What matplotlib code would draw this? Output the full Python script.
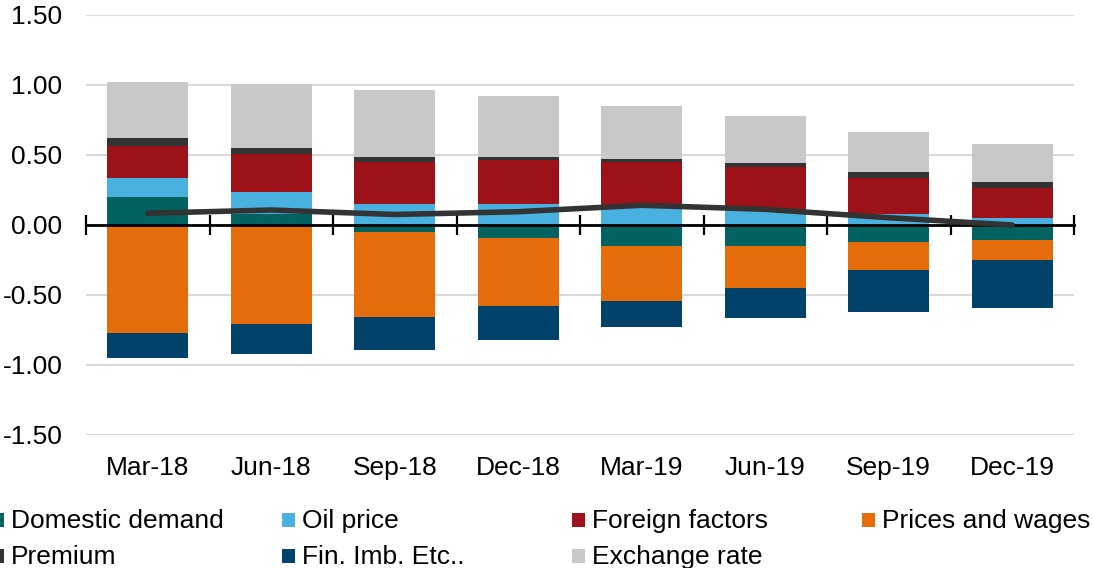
import matplotlib
matplotlib.use("Agg")
import matplotlib.pyplot as plt
import matplotlib.transforms as mtransforms
from matplotlib.patches import Rectangle
import numpy as np

plt.rcParams['font.family'] = ['Liberation Sans', 'DejaVu Sans']
plt.rcParams['axes.unicode_minus'] = False

categories = ["Mar-18", "Jun-18", "Sep-18", "Dec-18", "Mar-19", "Jun-19", "Sep-19", "Dec-19"]

domestic_demand = [0.20, 0.076, -0.05, -0.093, -0.152, -0.152, -0.12, -0.105]
oil_price = [0.135, 0.16, 0.148, 0.148, 0.124, 0.11, 0.077, 0.05]
foreign_factors = [0.23, 0.27, 0.30, 0.314, 0.323, 0.306, 0.259, 0.214]
prices_and_wages = [-0.77, -0.71, -0.605, -0.488, -0.388, -0.30, -0.204, -0.145]
premium = [0.055, 0.043, 0.04, 0.026, 0.028, 0.028, 0.04, 0.04]
fin_imb = [-0.18, -0.214, -0.238, -0.24, -0.186, -0.214, -0.30, -0.345]
exchange_rate = [0.40, 0.457, 0.474, 0.431, 0.373, 0.331, 0.289, 0.275]
total_line = [0.084, 0.107, 0.075, 0.095, 0.141, 0.112, 0.052, 0.0]

series_names = ["Domestic demand", "Oil price", "Foreign factors", "Prices and wages",
                "Premium", "Fin. Imb. Etc..", "Exchange rate"]
series_values = [domestic_demand, oil_price, foreign_factors, prices_and_wages,
                 premium, fin_imb, exchange_rate]
colors = ["#02625F", "#49B1DF", "#9D1118", "#E56C0B", "#333333", "#00426A", "#C8C8C8"]

y_ticks = [1.5, 1.0, 0.5, 0.0, -0.5, -1.0, -1.5]
y_tick_labels = ["1.50", "1.00", "0.50", "0.00", "-0.50", "-1.00", "-1.50"]

W, H = 1094, 568
fig = plt.figure(figsize=(W / 100, H / 100), dpi=100)
left_px, right_px, top_px, bot_px = 86, 1074, 15, 435
ax = fig.add_axes([left_px / W, 1 - bot_px / H, (right_px - left_px) / W, (bot_px - top_px) / H])

x = np.arange(len(categories))
pos_base = np.zeros(len(categories))
neg_base = np.zeros(len(categories))
for name, vals, c in zip(series_names, series_values, colors):
    v = np.array(vals)
    base = np.where(v >= 0, pos_base, neg_base)
    ax.bar(x, v, bottom=base, width=0.655, color=c, edgecolor='none', zorder=2)
    pos_base = pos_base + np.where(v >= 0, v, 0)
    neg_base = neg_base + np.where(v < 0, v, 0)

ax.set_xlim(-0.5, len(categories) - 0.5)
ax.set_ylim(-1.5, 1.5)
ax.set_yticks(y_ticks)
ax.set_yticklabels(y_tick_labels, fontsize=19)
ax.tick_params(axis='y', length=0, pad=17)
ax.grid(axis='y', color='#d9d9d9', linewidth=1.5, zorder=0)
ax.set_axisbelow(True)
for s in ['left', 'right', 'top']:
    ax.spines[s].set_visible(False)
ax.spines['bottom'].set_position(('data', 0))
ax.spines['bottom'].set_linewidth(2)
ax.spines['bottom'].set_zorder(3)
ax.set_xticks(np.arange(-0.5, len(categories), 1.0))
ax.set_xticklabels([])
ax.tick_params(axis='x', direction='inout', length=15, width=1.6, color='black')

label_tr = mtransforms.blended_transform_factory(ax.transData, fig.transFigure)
for xi, lab in zip(x, categories):
    ax.text(xi, 1 - 475 / H, lab, transform=label_tr,
            ha='center', va='baseline', fontsize=19)

ax.plot(x, total_line, color='#333333', linewidth=4, solid_joinstyle='round',
        solid_capstyle='round', zorder=5, clip_on=False)

# Legend (manual, matching the reference column layout)
col_x = [-9, 282, 572, 862]
row_y = [520, 556]
row_base = [528, 564]
legend_names = ["Domestic demand", "Oil price", "Foreign factors", "Prices and wages",
                "Premium", "Fin. Imb. Etc..", "Exchange rate"]
order = [(0, 0), (0, 1), (0, 2), (0, 3), (1, 0), (1, 1), (1, 2)]
for (r, cidx), name in zip(order, legend_names):
    c = colors[series_names.index(name)]
    mx = col_x[cidx]
    my = row_y[r]
    fig.patches.append(Rectangle((mx / W, 1 - (my + 7) / H), 13 / W, 14 / H,
                                 transform=fig.transFigure, facecolor=c, edgecolor='none'))
    fig.text((mx + 20) / W, 1 - row_base[r] / H, name, fontsize=19, ha='left', va='baseline')

fig.savefig("out.png", dpi=100)
